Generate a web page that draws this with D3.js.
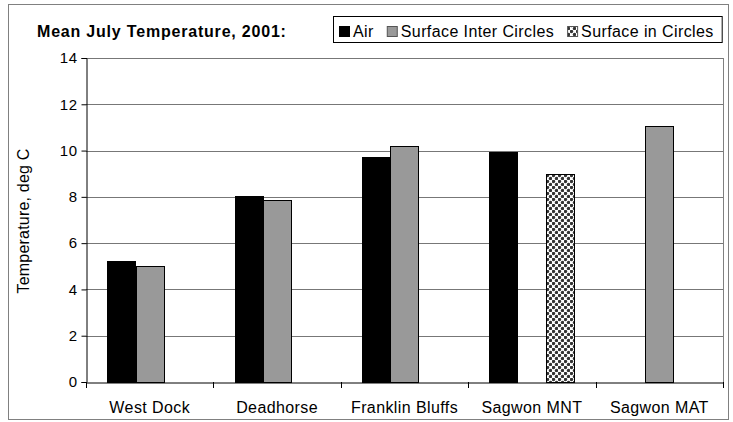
<!DOCTYPE html>
<html>
<head>
<meta charset="utf-8">
<script src="https://cdn.jsdelivr.net/npm/d3@7"></script>
<style>
  body { margin: 0; background: #fff; }
  text { font-family: "Liberation Sans", Arial, sans-serif; fill: #000; }
</style>
</head>
<body>
<script>
const w = 733
const h = 422

// data
const categories = ['West Dock', 'Deadhorse', 'Franklin Bluffs', 'Sagwon MNT', 'Sagwon MAT']
const seriesNames = ['Air', 'Surface Inter Circles', 'Surface in Circles']
const airTemp = [5.24, 8.04, 9.72, 9.94, null]
const surfaceInter = [5.01, 7.87, 10.2, null, 11.08]
const surfaceIn = [null, null, null, 8.98, null]
const yTicks = [0, 2, 4, 6, 8, 10, 12, 14]

const series = [airTemp, surfaceInter, surfaceIn]
const fills = ['#000', '#999', 'url(#dots)']

const plot = { left: 86, right: 723, top: 58, bottom: 382 }

const svg = d3.select('body').append('svg')
    .attr('width', w)
    .attr('height', h)

// pattern for the "in circles" series
const pat = svg.append('defs').append('pattern')
    .attr('id', 'dots')
    .attr('patternUnits', 'userSpaceOnUse')
    .attr('width', 6)
    .attr('height', 6)
pat.append('rect').attr('width', 6).attr('height', 6).attr('fill', '#fff')
pat.selectAll('circle')
    .data([[1.5, 1.5], [4.5, 4.5]])
    .enter().append('circle')
    .attr('cx', d => d[0]).attr('cy', d => d[1]).attr('r', 1.7)
    .attr('fill', '#333')

svg.append('rect')
    .attr('width', w).attr('height', h).attr('fill', '#fff')

// outer chart border
svg.append('rect')
    .attr('x', 8.5).attr('y', 4.5)
    .attr('width', 720).attr('height', 415)
    .attr('fill', 'none')
    .attr('stroke', '#808080')

const yScale = d3.scaleLinear()
    .domain([0, 14])
    .range([plot.bottom, plot.top])

const xScale = d3.scaleBand()
    .domain(categories)
    .range([plot.left, plot.right])

const barW = xScale.bandwidth() / 4.5
const barScale = d3.scaleBand()
    .domain(d3.range(series.length))
    .range([barW * 0.75, barW * 3.75])

// gridlines
svg.append('g')
    .selectAll('line')
    .data(yTicks.filter(d => d > 0))
    .enter().append('line')
    .attr('x1', plot.left).attr('x2', plot.right)
    .attr('y1', d => Math.round(yScale(d)) + 0.5)
    .attr('y2', d => Math.round(yScale(d)) + 0.5)
    .attr('stroke', '#777')

// plot area right edge
svg.append('line')
    .attr('x1', plot.right + 0.5).attr('x2', plot.right + 0.5)
    .attr('y1', plot.top).attr('y2', plot.bottom)
    .attr('stroke', '#808080')

// bars
series.forEach(function (vals, i) {
    svg.append('g')
        .selectAll('rect')
        .data(categories.map((c, j) => ({ cat: c, v: vals[j] })).filter(d => d.v !== null))
        .enter().append('rect')
        .attr('x', d => Math.round(xScale(d.cat) + barScale(i)) + 0.5)
        .attr('y', d => Math.round(yScale(d.v)) + 0.5)
        .attr('width', Math.round(barW))
        .attr('height', d => Math.round(yScale(0)) - Math.round(yScale(d.v)))
        .attr('fill', fills[i])
        .attr('stroke', '#000')
})

const yAxis = svg.append('g')
    .attr('transform', `translate(${plot.left + 0.5},0)`)
    .call(d3.axisLeft(yScale).tickValues(yTicks).tickSize(5).tickPadding(4).tickFormat(d3.format('d')))
yAxis.select('.domain').attr('stroke', '#000')
yAxis.selectAll('text').style('font-size', '15px').style('letter-spacing', '0.5px').attr('fill', '#000')

const xAxis = svg.append('g')
    .attr('transform', `translate(0,${Math.round(plot.bottom) + 0.5})`)
    .call(d3.axisBottom(xScale).tickSize(0).tickPadding(19))
xAxis.select('.domain').attr('stroke', '#000')
xAxis.selectAll('text').style('font-size', '16px').style('letter-spacing', '0.4px').attr('fill', '#000')

// category separator ticks
svg.append('g')
    .selectAll('line')
    .data(categories.map(c => xScale(c)).concat([plot.right]))
    .enter().append('line')
    .attr('x1', d => Math.round(d) + 0.5).attr('x2', d => Math.round(d) + 0.5)
    .attr('y1', plot.bottom).attr('y2', plot.bottom + 6)
    .attr('stroke', '#000')

svg.append('text')
    .attr('transform', `translate(29,${(plot.top + plot.bottom) / 2 + 1}) rotate(-90)`)
    .attr('text-anchor', 'middle')
    .style('font-size', '16px')
    .style('letter-spacing', '0.2px')
    .text('Temperature, deg C')

svg.append('text')
    .attr('x', 37).attr('y', 37)
    .style('font-size', '16px')
    .style('font-weight', 'bold')
    .style('letter-spacing', '0.8px')
    .text('Mean July Temperature, 2001:')

// legend
const legend = svg.append('g')
let lx = 339
seriesNames.forEach(function (name, i) {
    legend.append('rect')
        .attr('x', lx + 0.5).attr('y', 26.5)
        .attr('width', 10).attr('height', 10)
        .attr('fill', fills[i])
        .attr('stroke', i === 0 ? '#000' : '#555')
    const t = legend.append('text')
        .attr('x', lx + 14).attr('y', 37)
        .style('font-size', '16px')
        .style('letter-spacing', '0.4px')
        .text(name)
    lx += 14 + t.node().getComputedTextLength() + 13
})
legend.insert('rect', ':first-child')
    .attr('x', 333.5).attr('y', 16.5)
    .attr('width', lx - 333 - 5).attr('height', 26)
    .attr('fill', '#fff')
    .attr('stroke', '#000')
</script>
</body>
</html>
